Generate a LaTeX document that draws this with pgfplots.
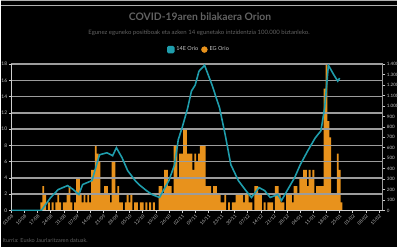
\documentclass[border=0pt]{standalone}
\usepackage{pgfplots}
\pgfplotsset{compat=1.18}
\usepackage{fontspec}
\setmainfont{Lato}
\definecolor{tealc}{HTML}{1F9DAC}
\definecolor{orng}{HTML}{E8921C}
\definecolor{gridg}{HTML}{9C9C9C}
\definecolor{txt}{HTML}{C4C4C4}
\definecolor{ttl}{HTML}{626262}
\begin{document}
\begin{tikzpicture}[x=1bp,y=1bp]
\fill[black] (0,0) rectangle (400,250);
\draw[gridg!80, line width=1bp] (0,249.5) -- (400,249.5);
\draw[gridg!80, line width=1.5bp] (0,244.5) -- (400,244.5);
\node[ttl, font=\bfseries\fontsize{10.5}{12}\selectfont] at (201,233) {COVID-19aren bilakaera Orion};
\node[ttl, font=\fontsize{6.1}{7}\selectfont] at (200,217) {Egunez eguneko positiboak eta azken 14 egunetako intzidentzia 100.000 biztanleko.};
\node[ttl, font=\fontsize{5.6}{6}\selectfont, anchor=west, inner sep=0] at (1,7) {Iturria: Eusko Jaurlaritzaren datuak.};
\begin{axis}[at={(10bp,37bp)}, anchor=south west, scale only axis,
  width=376bp, height=148bp,
  xmin=0, xmax=198, ymin=0, ymax=18,
  axis y line*=left, axis x line*=bottom,
  ytick={0,2,...,18}, ymajorgrids,
  grid style={gridg, line width=1.5bp},
  xtick={0,7,...,196},
  xticklabels={03/08,10/08,17/08,24/08,31/08,07/09,14/09,21/09,28/09,05/10,12/10,19/10,26/10,02/11,09/11,16/11,23/11,30/11,07/12,14/12,21/12,28/12,04/01,11/01,18/01,25/01,01/02,08/02,15/02},
  x tick label style={rotate=45, anchor=north east, font=\fontsize{4.6}{5}\selectfont, text=txt, inner sep=0.8bp},
  y tick label style={font=\fontsize{5}{6}\selectfont, text=txt, inner sep=1.5bp},
  /pgf/number format/assume math mode=true,
  axis line style={gridg!50!white, line width=1.3bp},
  tick style={gridg!50!white, line width=0.6bp},
  major tick length=2.5bp,
  tick align=outside,
  axis on top,
]
\addplot[ybar, bar width=1.9bp, fill=orng, draw=none] coordinates {
(16,1)(17,3)(18,2)(19,0)(20,1)(21,0)(22,1)(23,0)(24,1)(25,2)(26,1)(27,0)(28,1)(29,1)(30,2)(31,3)(32,1)(33,0)(34,1)(35,4)(36,4)(37,2)(38,1)(39,2)(40,1)(41,2)(42,1)(43,5)(44,5)(45,8)(46,7)(47,6)(48,2)(49,2)(50,3)(51,3)(52,2)(53,1)(54,6)(55,6)(56,2)(57,3)(58,1)(59,1)(60,0)(61,1)(62,2)(63,1)(64,2)(65,0)(66,1)(67,1)(68,0)(69,1)(70,1)(71,0)(72,1)(73,0)(74,1)(75,0)(76,1)(77,0)(78,0)(79,3)(80,3)(81,2)(82,5)(83,5)(84,3)(85,3)(86,2)(87,8)(88,8)(89,4)(90,7)(91,7)(92,10)(93,10)(94,7)(95,7)(96,7)(97,5)(98,7)(99,6)(100,7)(101,8)(102,8)(103,8)(104,3)(105,3)(106,3)(107,2)(108,3)(109,3)(110,2)(111,2)(112,1)(113,1)(114,2)(115,0)(116,1)(117,0)(118,1)(119,1)(120,2)(121,2)(122,2)(123,2)(124,1)(125,2)(126,2)(127,1)(128,1)(129,0)(130,3)(131,3)(132,2)(133,2)(134,0)(135,1)(136,0)(137,1)(138,1)(139,1)(140,0)(141,3)(142,3)(143,2)(144,1)(145,1)(146,0)(147,2)(148,2)(149,2)(150,1)(151,3)(152,3)(153,2)(154,4)(155,4)(156,5)(157,5)(158,3)(159,5)(160,4)(161,5)(162,2)(163,3)(164,3)(165,3)(166,3)(167,15)(168,18)(169,11)(170,9)(171,2)(172,2)(173,2)(174,7)(175,5)(176,1)
};
\end{axis}
\begin{axis}[at={(10bp,37bp)}, anchor=south west, scale only axis,
  width=376bp, height=148bp,
  xmin=0, xmax=198, ymin=0, ymax=1400,
  axis y line*=right, axis x line=none,
  ytick distance=100,
  y tick label style={font=\fontsize{4.6}{5}\selectfont, text=txt, inner sep=1.5bp},
  /pgf/number format/assume math mode=true,
  /pgf/number format/1000 sep={.},
  axis line style={gridg, line width=1bp},
  tick style={gridg!50!white, line width=0.6bp},
  major tick length=2.5bp,
  tick align=outside,
  legend style={at={(rel axis cs:0.505,1.10)}, anchor=center, legend columns=2,
    draw=none, fill=none, font=\fontsize{5.6}{6}\selectfont, text=txt,
    /tikz/every even column/.append style={column sep=1bp}},
  legend cell align=left,
]
\addplot[tealc, line width=1.6bp, legend image code/.code={\fill[tealc, rounded corners=1bp] (0bp,-3bp) rectangle (6bp,3bp);}] coordinates {
(0,0)(16,0)(21,124)(25,200)(30,238)(33,200)(36,152)(38,248)(43,286)(45,410)(47,533)(51,552)(54,524)(56,600)(59,505)(62,381)(66,286)(68,248)(72,190)(75,152)(79,124)(81,190)(84,286)(87,438)(89,680)(91,790)(94,981)(96,1143)(98,1200)(100,1333)(103,1390)(107,1200)(111,981)(114,724)(117,438)(121,286)(125,190)(128,124)(132,219)(135,190)(138,124)(142,152)(144,95)(147,190)(151,314)(154,438)(158,571)(162,695)(165,762)(167,981)(169,1390)(172,1295)(174,1238)(175,1267)
};
\addlegendentry{14E Orio}
\addlegendimage{legend image code/.code={\fill[orng] (3bp,0bp) circle (3bp);}}
\addlegendentry{EG Orio}
\end{axis}
\end{tikzpicture}
\end{document}
